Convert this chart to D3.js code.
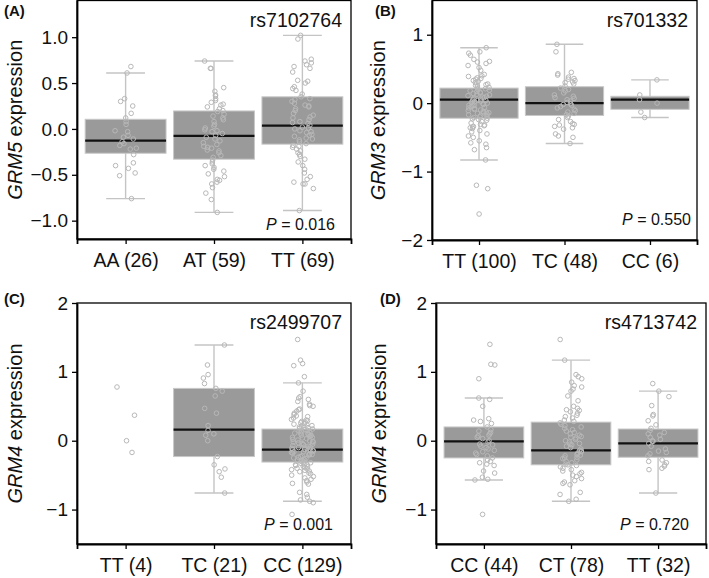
<!DOCTYPE html>
<html>
<head>
<meta charset="utf-8">
<script src="https://cdn.jsdelivr.net/npm/d3@7"></script>
<style>
  html, body { margin: 0; padding: 0; background: #fff; }
  svg { display: block; font-family: "Liberation Sans", Arial, sans-serif; }
</style>
</head>
<body>
<svg id="chart" width="709" height="578"></svg>
<script>
// ---------------- DATA ----------------
const panelLabels = ["(A)", "(B)", "(C)", "(D)"];
const snpNames = ["rs7102764", "rs701332", "rs2499707", "rs4713742"];
const geneNames = ["GRM5", "GRM3", "GRM4", "GRM4"];
const pValues = ["0.016", "0.550", "0.001", "0.720"];

const categoriesA = ["AA (26)", "AT (59)", "TT (69)"];
const categoriesB = ["TT (100)", "TC (48)", "CC (6)"];
const categoriesC = ["TT (4)", "TC (21)", "CC (129)"];
const categoriesD = ["CC (44)", "CT (78)", "TT (32)"];

const yTicksA = [-1.0, -0.5, 0.0, 0.5, 1.0];
const yTicksB = [-2, -1, 0, 1];
const yTicksC = [-1, 0, 1, 2];
const yTicksD = [-1, 0, 1, 2];

const yDomainA = [-1.2, 1.4];
const yDomainB = [-2, 1.5];
const yDomainC = [-1.5, 2];
const yDomainD = [-1.5, 2];

// box stats: [lower whisker, Q1, median, Q3, upper whisker]; null = no box drawn
const boxesA = [[-0.76, -0.265, -0.127, 0.105, 0.61], [-0.91, -0.33, -0.076, 0.196, 0.74], [-0.89, -0.166, 0.036, 0.35, 1.02]];
const boxesB = [[-0.83, -0.22, 0.05, 0.22, 0.81], [-0.59, -0.18, 0.0, 0.24, 0.86], [-0.21, -0.09, 0.05, 0.10, 0.34]];
const boxesC = [null, [-0.76, -0.23, 0.16, 0.76, 1.39], [-0.88, -0.31, -0.13, 0.17, 0.84]];
const boxesD = [[-0.57, -0.25, -0.01, 0.20, 0.62], [-0.88, -0.35, -0.14, 0.27, 1.17], [-0.76, -0.24, -0.04, 0.17, 0.72]];

// individual expression values
const ptsA1 = [0.68, 0.61, 0.33, 0.30, 0.25, 0.17, 0.12, 0.08, 0.05, -0.02, -0.03, -0.07, -0.09, -0.11, -0.14, -0.16, -0.18, -0.21, -0.22, -0.28, -0.37, -0.40, -0.43, -0.48, -0.51, -0.76];
const ptsA2 = [0.74, 0.66, 0.66, 0.45, 0.41, 0.37, 0.36, 0.33, 0.31, 0.29, 0.27, 0.26, 0.24, 0.22, 0.19, 0.16, 0.14, 0.10, 0.08, 0.05, 0.03, 0.01, -0.01, -0.03, -0.05, -0.07, -0.09, -0.11, -0.13, -0.15, -0.17, -0.19, -0.21, -0.23, -0.24, -0.26, -0.29, -0.31, -0.34, -0.36, -0.38, -0.40, -0.42, -0.44, -0.46, -0.49, -0.52, -0.55, -0.56, -0.58, -0.60, -0.64, -0.70, -0.77, -0.91, 0.12, -0.02, -0.20, 0.20];
const ptsA3 = [1.02, 0.98, 0.76, 0.74, 0.72, 0.70, 0.68, 0.66, 0.62, 0.53, 0.52, 0.50, 0.46, 0.44, 0.42, 0.38, 0.35, 0.32, 0.30, 0.28, 0.26, 0.24, 0.22, 0.20, 0.17, 0.15, 0.12, 0.10, 0.08, 0.06, 0.04, 0.02, 0.00, -0.02, -0.04, -0.06, -0.08, -0.10, -0.12, -0.14, -0.16, -0.18, -0.20, -0.22, -0.24, -0.26, -0.28, -0.30, -0.33, -0.36, -0.40, -0.44, -0.48, -0.52, -0.55, -0.58, -0.60, -0.60, -0.65, -0.89, 0.07, -0.03, -0.11, 0.13, 0.25, -0.19, 0.33, 0.01, -0.07];

const ptsB1 = [0.81, 0.75, 0.73, 0.70, 0.64, 0.61, 0.60, 0.55, 0.52, 0.48, 0.42, 0.40, 0.39, 0.37, 0.35, 0.33, 0.32, 0.30, 0.28, 0.27, 0.25, 0.23, 0.22, 0.21, 0.20, 0.19, 0.17, 0.16, 0.15, 0.14, 0.13, 0.12, 0.11, 0.10, 0.09, 0.08, 0.07, 0.06, 0.05, 0.04, 0.04, 0.03, 0.02, 0.01, 0.00, -0.01, -0.02, -0.03, -0.04, -0.05, -0.06, -0.07, -0.08, -0.09, -0.10, -0.11, -0.12, -0.13, -0.14, -0.15, -0.16, -0.17, -0.18, -0.19, -0.20, -0.21, -0.22, -0.23, -0.25, -0.27, -0.29, -0.31, -0.32, -0.33, -0.34, -0.35, -0.37, -0.40, -0.42, -0.45, -0.48, -0.50, -0.55, -0.58, -0.60, -0.65, -0.68, -0.83, -1.20, -1.25, -1.62, 0.26, 0.18, 0.03, -0.03, -0.14, -0.24, -0.36, 0.36, 0.58];
const ptsB2 = [0.86, 0.75, 0.45, 0.43, 0.41, 0.38, 0.36, 0.35, 0.33, 0.31, 0.30, 0.28, 0.25, 0.22, 0.20, 0.18, 0.15, 0.12, 0.10, 0.07, 0.05, 0.03, 0.01, -0.01, -0.03, -0.05, -0.07, -0.09, -0.11, -0.13, -0.15, -0.17, -0.19, -0.21, -0.24, -0.27, -0.30, -0.31, -0.32, -0.34, -0.36, -0.38, -0.45, -0.48, -0.50, -0.59, 0.08, -0.02];
const ptsB3 = [0.34, 0.12, 0.05, 0.00, -0.13, -0.21];

const ptsC1 = [0.78, 0.37, 0.00, -0.17];
const ptsC2 = [1.39, 1.10, 0.96, 0.91, 0.83, 0.76, 0.72, 0.65, 0.47, 0.40, 0.22, 0.10, 0.08, 0.00, -0.23, -0.35, -0.41, -0.45, -0.53, -0.76, 0.15];
const ptsC3 = [1.47, 1.17, 1.12, 1.09, 0.93, 0.84, 0.72, 0.64, 0.62, 0.60, 0.57, 0.53, 0.51, 0.50, 0.46, 0.45, 0.40, 0.36, 0.35, 0.33, 0.31, 0.30, 0.29, 0.28, 0.27, 0.26, 0.25, 0.24, 0.22, 0.21, 0.20, 0.19, 0.18, 0.17, 0.16, 0.15, 0.14, 0.13, 0.12, 0.11, 0.10, 0.09, 0.08, 0.08, 0.07, 0.06, 0.05, 0.04, 0.03, 0.02, 0.01, 0.00, -0.01, -0.02, -0.03, -0.04, -0.05, -0.06, -0.07, -0.08, -0.09, -0.10, -0.11, -0.12, -0.12, -0.13, -0.13, -0.14, -0.15, -0.16, -0.17, -0.18, -0.19, -0.20, -0.21, -0.22, -0.23, -0.24, -0.25, -0.26, -0.27, -0.28, -0.29, -0.30, -0.31, -0.32, -0.33, -0.34, -0.35, -0.36, -0.37, -0.38, -0.39, -0.40, -0.41, -0.42, -0.43, -0.44, -0.45, -0.47, -0.48, -0.50, -0.52, -0.54, -0.56, -0.58, -0.60, -0.62, -0.63, -0.75, -0.78, -0.82, -0.86, -0.88, -0.90, -1.07, 0.43, 0.38, 0.23, 0.11, -0.05, -0.11, -0.16, -0.20, -0.28, -0.35, 0.05, -0.02, -0.14];

const ptsD1 = [1.40, 1.10, 1.11, 0.90, 0.62, 0.60, 0.50, 0.32, 0.30, 0.28, 0.25, 0.20, 0.16, 0.14, 0.12, 0.10, 0.08, 0.05, 0.03, 0.00, -0.02, -0.05, -0.08, -0.10, -0.12, -0.14, -0.16, -0.18, -0.20, -0.22, -0.25, -0.28, -0.30, -0.32, -0.34, -0.36, -0.44, -0.47, -0.53, -0.56, -0.57, -1.07, 0.07, -0.06];
const ptsD2 = [1.47, 1.17, 0.96, 0.93, 0.90, 0.85, 0.80, 0.78, 0.75, 0.72, 0.65, 0.58, 0.50, 0.47, 0.44, 0.42, 0.40, 0.37, 0.33, 0.30, 0.28, 0.26, 0.24, 0.22, 0.20, 0.18, 0.16, 0.14, 0.12, 0.10, 0.08, 0.06, 0.04, 0.02, 0.00, -0.02, -0.04, -0.06, -0.08, -0.10, -0.12, -0.14, -0.16, -0.18, -0.20, -0.21, -0.22, -0.24, -0.26, -0.28, -0.30, -0.32, -0.34, -0.36, -0.38, -0.40, -0.42, -0.44, -0.46, -0.48, -0.50, -0.52, -0.55, -0.58, -0.60, -0.62, -0.64, -0.75, -0.78, -0.85, -0.88, 0.35, 0.05, -0.05, -0.15, -0.25, -0.35, 0.45];
const ptsD3 = [0.83, 0.72, 0.64, 0.51, 0.38, 0.36, 0.29, 0.23, 0.18, 0.15, 0.12, 0.10, 0.08, 0.05, 0.02, -0.01, -0.04, -0.08, -0.12, -0.15, -0.17, -0.19, -0.22, -0.28, -0.30, -0.32, -0.35, -0.37, -0.40, -0.42, -0.76, 0.00];

// ---------------- LAYOUT ----------------
const panels = [
  { label: panelLabels[0], snp: snpNames[0], gene: geneNames[0], p: pValues[0], cats: categoriesA, ticks: yTicksA, domain: yDomainA, boxes: boxesA, pts: [ptsA1, ptsA2, ptsA3], fmt: d3.format(".1f"),
    box: { l: 77, r: 351, t: 0.5, b: 239 }, labelPos: [4, 16], ylabX: 22, pRight: 335, pBase: 230 },
  { label: panelLabels[1], snp: snpNames[1], gene: geneNames[1], p: pValues[1], cats: categoriesB, ticks: yTicksB, domain: yDomainB, boxes: boxesB, pts: [ptsB1, ptsB2, ptsB3], fmt: d3.format("d"),
    box: { l: 432, r: 697, t: 0.5, b: 240 }, labelPos: [375, 16], ylabX: 385, pRight: 691, pBase: 225 },
  { label: panelLabels[2], snp: snpNames[2], gene: geneNames[2], p: pValues[2], cats: categoriesC, ticks: yTicksC, domain: yDomainC, boxes: boxesC, pts: [ptsC1, ptsC2, ptsC3], fmt: d3.format("d"),
    box: { l: 77, r: 351, t: 303, b: 544 }, labelPos: [4, 304], ylabX: 22, pRight: 333, pBase: 530 },
  { label: panelLabels[3], snp: snpNames[3], gene: geneNames[3], p: pValues[3], cats: categoriesD, ticks: yTicksD, domain: yDomainD, boxes: boxesD, pts: [ptsD1, ptsD2, ptsD3], fmt: d3.format("d"),
    box: { l: 436, r: 706, t: 303, b: 544 }, labelPos: [380, 304], ylabX: 386, pRight: 689, pBase: 530 }
];

const svg = d3.select("#chart");
const BOX_FILL = "#9a9a9a";
const WHISKER = "#c4c4c4";
const PT_STROKE = "#b8b8b8";

// deterministic horizontal jitter offset in [-1, 1] (hash of index, layout only)
const jitter = (i, k) => {
  const s = Math.sin((i + 1) * 12.9898 + (k + 1) * 78.233) * 43758.5453;
  return (s - Math.floor(s)) * 2 - 1;
};

panels.forEach((P, pi) => {
  const g = svg.append("g");
  const B = P.box;
  const y = d3.scaleLinear().domain(P.domain).range([B.b, B.t]);
  const x = d3.scalePoint().domain(P.cats).range([B.l, B.r]).padding(0.55);
  const step = x.step();
  const bw = step * 0.915;
  const capW = bw * 0.48;
  const jw = 11;

  P.cats.forEach((c, ci) => {
    const cx = x(c);
    const s = P.boxes[ci];
    if (s) {
      g.append("line").attr("x1", cx).attr("x2", cx).attr("y1", y(s[0])).attr("y2", y(s[4]))
        .attr("stroke", WHISKER).attr("stroke-width", 1.4);
      [s[0], s[4]].forEach(v => {
        g.append("line").attr("x1", cx - capW / 2).attr("x2", cx + capW / 2).attr("y1", y(v)).attr("y2", y(v))
          .attr("stroke", WHISKER).attr("stroke-width", 1.4);
      });
      g.append("rect").attr("x", cx - bw / 2).attr("width", bw)
        .attr("y", y(s[3])).attr("height", y(s[1]) - y(s[3]))
        .attr("fill", BOX_FILL).attr("stroke", "#c8c8c8").attr("stroke-width", 1);
      g.append("line").attr("x1", cx - bw / 2).attr("x2", cx + bw / 2).attr("y1", y(s[2])).attr("y2", y(s[2]))
        .attr("stroke", "#111").attr("stroke-width", 2.2);
    }
    g.append("g").selectAll("circle").data(P.pts[ci]).join("circle")
      .attr("cx", (d, i) => cx + jitter(i, pi * 3 + ci) * jw)
      .attr("cy", d => y(d))
      .attr("r", 2.3)
      .attr("fill", "none")
      .attr("stroke", PT_STROKE)
      .attr("stroke-width", 1);
  });

  g.append("rect").attr("x", B.l).attr("y", B.t).attr("width", B.r - B.l).attr("height", B.b - B.t)
    .attr("fill", "none").attr("stroke", "#000").attr("stroke-width", 1.3);

  const yAxis = d3.axisLeft(y).tickValues(P.ticks).tickFormat(P.fmt).tickSizeInner(5).tickSizeOuter(0).tickPadding(4);
  const ya = g.append("g").attr("transform", `translate(${B.l},0)`).call(yAxis);
  ya.select(".domain").attr("stroke-width", 1.8);
  ya.selectAll(".tick line").attr("stroke-width", 1.3);
  ya.selectAll("text").attr("font-size", 19).attr("fill", "#111").attr("font-family", "Liberation Sans, Arial, sans-serif");

  const xAxis = d3.axisBottom(x).tickSizeInner(5).tickSizeOuter(5).tickPadding(9);
  const xa = g.append("g").attr("transform", `translate(0,${B.b})`).call(xAxis);
  xa.select(".domain").attr("stroke-width", 1.8);
  xa.selectAll(".tick line").attr("stroke-width", 1.3);
  xa.selectAll("text").attr("font-size", 19.5).attr("fill", "#111").attr("font-family", "Liberation Sans, Arial, sans-serif");

  const cy = (B.t + B.b) / 2;
  const yl = g.append("text").attr("transform", `translate(${P.ylabX},${cy}) rotate(-90)`)
    .attr("text-anchor", "middle").attr("font-size", 20).attr("fill", "#111");
  yl.append("tspan").attr("font-style", "italic").text(P.gene);
  yl.append("tspan").text(" expression");

  g.append("text").attr("x", B.r - 9).attr("y", B.t + 26).attr("text-anchor", "end")
    .attr("font-size", 19.5).attr("fill", "#111").text(P.snp);

  const pt = g.append("text").attr("x", P.pRight).attr("y", P.pBase).attr("text-anchor", "end")
    .attr("font-size", 16).attr("fill", "#111");
  pt.append("tspan").attr("font-style", "italic").text("P");
  pt.append("tspan").text(" = " + P.p);

  svg.append("text").attr("x", P.labelPos[0]).attr("y", P.labelPos[1])
    .attr("font-size", 15).attr("font-weight", "bold").attr("fill", "#111").text(P.label);
});
</script>
</body>
</html>
